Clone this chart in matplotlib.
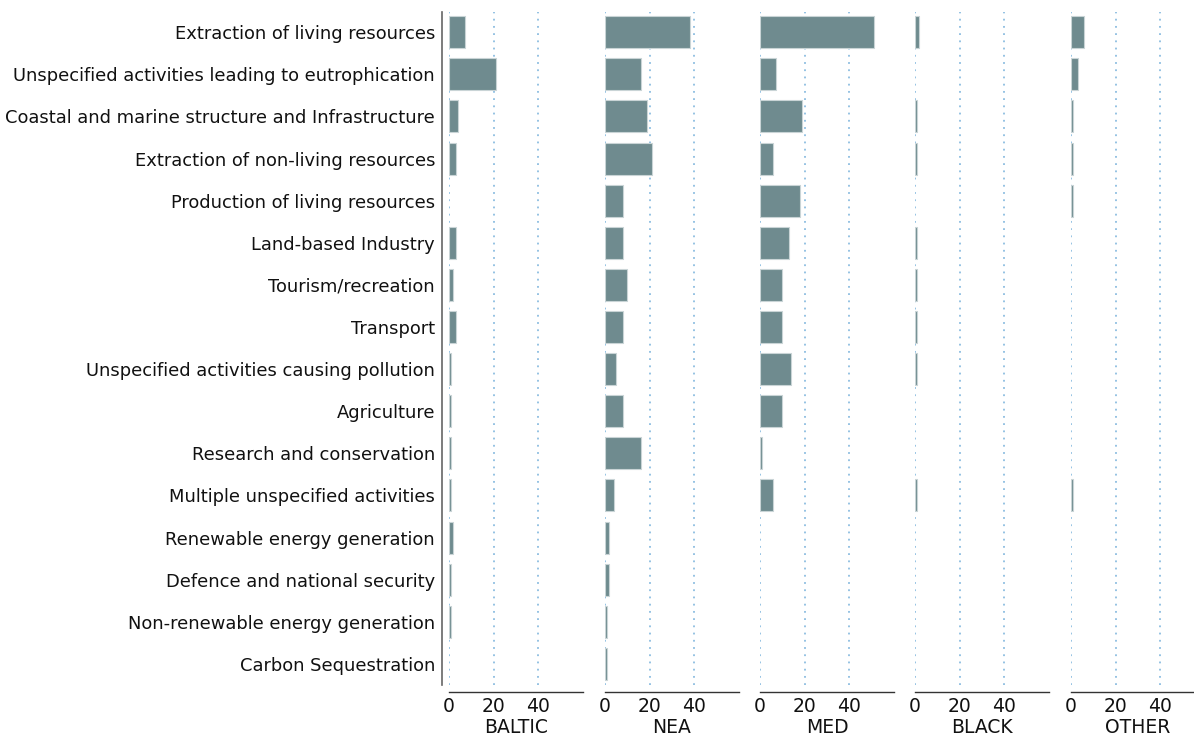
import matplotlib.pyplot as plt

# ---------------------
# Data
# ---------------------
ACTIVITIES = [
    "Extraction of living resources",
    "Unspecified activities leading to eutrophication",
    "Coastal and marine structure and Infrastructure",
    "Extraction of non-living resources",
    "Production of living resources",
    "Land-based Industry",
    "Tourism/recreation",
    "Transport",
    "Unspecified activities causing pollution",
    "Agriculture",
    "Research and conservation",
    "Multiple unspecified activities",
    "Renewable energy generation",
    "Defence and national security",
    "Non-renewable energy generation",
    "Carbon Sequestration",
]

REGIONS = ["BALTIC", "NEA", "MED", "BLACK", "OTHER"]

baltic = [7, 21, 4, 3, 0, 3, 2, 3, 1, 1, 1, 1, 2, 1, 1, 0]
nea = [38, 16, 19, 21, 8, 8, 10, 8, 5, 8, 16, 4, 2, 2, 1, 1]
med = [51, 7, 19, 6, 18, 13, 10, 10, 14, 10, 1, 6, 0, 0, 0, 0]
black = [2, 0, 1, 1, 0, 1, 1, 1, 1, 0, 0, 1, 0, 0, 0, 0]
other = [6, 3, 1, 1, 1, 0, 0, 0, 0, 0, 0, 1, 0, 0, 0, 0]

VALUES = [baltic, nea, med, black, other]

# ---------------------
# Style
# ---------------------
BAR_COLOR = "#6f8b8f"
GRID_COLOR = "#8cbde0"
W, H = 1194, 740

fig = plt.figure(figsize=(W / 100, H / 100), dpi=100)

y = list(range(len(ACTIVITIES)))
panel_lefts = [449, 605, 760, 915, 1071]
panel_w = 134
top, bottom = 12, 685

for i, (region, vals) in enumerate(zip(REGIONS, VALUES)):
    ax = fig.add_axes([panel_lefts[i] / W, (H - bottom) / H,
                       panel_w / W, (bottom - top) / H])
    # no outline for empty bars
    widths = [0.8 if v > 0 else 0 for v in vals]
    ax.barh(y, vals, height=0.76, color=BAR_COLOR,
            edgecolor="#c9d4d6", linewidth=widths, zorder=3)
    ax.set_xlim(0, 60)
    ax.set_ylim(len(ACTIVITIES) - 0.5, -0.48)
    ax.set_xticks([0, 20, 40])
    for gx in [0, 20, 40]:
        ax.axvline(gx, color=GRID_COLOR, linestyle=(0, (1, 3)),
                   linewidth=1.3, zorder=1)
    ax.tick_params(axis="x", length=0, labelsize=13.5, pad=4, colors="#111111")
    ax.tick_params(axis="y", length=0)
    ax.set_xlabel(region, fontsize=13.5, labelpad=1, color="#111111")
    for s in ["top", "right"]:
        ax.spines[s].set_visible(False)
    ax.spines["bottom"].set_position(("outward", 5))
    ax.spines["bottom"].set_color("#333333")
    ax.spines["bottom"].set_linewidth(1.0)
    if i == 0:
        ax.spines["left"].set_position(("outward", 5))
        ax.spines["left"].set_color("#666666")
        ax.spines["left"].set_linewidth(1.2)
        ax.set_yticks(y)
        ax.set_yticklabels(ACTIVITIES, fontsize=12.85, color="#111111")
        ax.tick_params(axis="y", pad=5)
    else:
        ax.spines["left"].set_visible(False)
        ax.set_yticks([])

fig.savefig("out.png", dpi=100)
plt.close(fig)
